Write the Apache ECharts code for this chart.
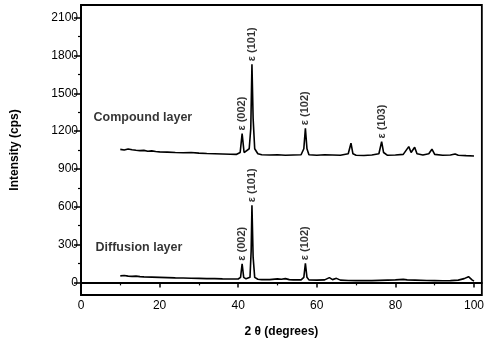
<!DOCTYPE html>
<html>
<head>
<meta charset="utf-8">
<script src="https://cdn.jsdelivr.net/npm/echarts@6/dist/echarts.min.js"></script>
<style>html,body{margin:0;padding:0;background:#fff;}#c{width:487px;height:344px;}</style>
</head>
<body>
<div id="c"></div>
<script>
// 2θ values (degrees) and intensities (cps)
var compoundX = [10,11,12,13,14,15,16,17,18,19,20,22,24,26,28,30,32,34,36,38,39.5,40.5,41,41.5,42,42.8,43.2,43.5,43.8,44.2,45,46,48,50,52,54,56,56.7,57.1,57.5,58,60,62,64,66,68,68.7,69.2,70,72,74,75.8,76.5,77,78,80,82,83.4,84,84.9,85.5,87,88.5,89.3,90,92,94,95.2,96,98,100];
var compoundY = [1055,1050,1058,1052,1048,1045,1047,1040,1043,1038,1035,1033,1030,1028,1030,1025,1022,1020,1018,1016,1015,1030,1180,1030,1025,1060,1220,1730,1300,1060,1020,1012,1010,1012,1008,1010,1012,1060,1223,1060,1012,1008,1012,1010,1008,1020,1104,1020,1008,1006,1010,1020,1117,1030,1008,1010,1015,1077,1030,1072,1020,1010,1020,1056,1015,1008,1010,1018,1008,1005,1003];
var diffusionX = [10,11,12,13,14,15,16,18,20,22,24,26,28,30,32,34,36,38,40,40.6,41,41.4,42,43,43.3,43.5,43.8,44.2,45,46,48,50,50.5,51,52,53,54,56,56.7,57.1,57.5,58,60,62,63.2,64,65,66,68,70,72,74,76,78,80,82,83,85,88,90,92,94,96,97.5,98.6,99.5,100];
var diffusionY = [52,55,50,48,50,46,44,42,40,38,36,35,33,32,30,30,28,27,27,40,148,40,28,40,250,612,200,40,25,22,22,28,35,25,30,22,20,20,40,152,40,20,18,20,38,22,32,18,15,14,15,14,16,18,20,24,20,18,15,14,13,14,18,30,45,20,10];
// peak annotations
var peakX = [41, 43.5, 57.1, 76.5, 41, 43.5, 57.1];
var peakY = [1180, 1730, 1223, 1117, 148, 612, 152];
var peakText = ['ε (002)','ε (101)','ε (102)','ε (103)','ε (002)','ε (101)','ε (102)'];
// layer names
var layerNames = ['Compound layer','Diffusion layer'];
var layerX = [3.2, 3.7];
var layerY = [1305, 279];
// tick labels
var yMajor = [0,300,600,900,1200,1500,1800,2100];
var yMinor = [150,450,750,1050,1350,1650,1950];
var xMajor = [0,20,40,60,80,100];
var xMinor = [10,30,50,70,90];

function zip(a,b){return a.map(function(v,i){return [v,b[i]];});}
function plain(v){return String(v);}

var font = 'Liberation Sans, Arial, sans-serif';
var chart = echarts.init(document.getElementById('c'));
var axisLine = {show:true, lineStyle:{color:'#000', width:1.8}};
chart.setOption({
  animation:false,
  backgroundColor:'#fff',
  grid:{left:81, right:4, top:5, bottom:49, show:true, borderColor:'#000', borderWidth:1.8, backgroundColor:'transparent'},
  xAxis:[{
    type:'value', min:0, max:102, position:'bottom',
    name:'2 θ (degrees)', nameLocation:'middle', nameGap:31,
    nameTextStyle:{fontFamily:font, fontWeight:'bold', fontSize:12, color:'#000'},
    axisLine:axisLine,
    axisTick:{show:true, customValues:xMajor, length:5, inside:false, lineStyle:{color:'#000', width:1.5}},
    axisLabel:{show:true, customValues:xMajor, formatter:plain, fontFamily:font, fontSize:12, color:'#000', margin:5},
    splitLine:{show:false}
  },{
    type:'value', min:0, max:102, position:'bottom',
    axisLine:{show:false},
    axisTick:{show:true, customValues:xMinor, length:3, lineStyle:{color:'#000', width:1.2}},
    axisLabel:{show:false}, splitLine:{show:false}
  }],
  yAxis:[{
    type:'value', min:-100, max:2200, position:'left',
    name:'Intensity (cps)', nameLocation:'middle', nameGap:60,
    nameTextStyle:{fontFamily:font, fontWeight:'bold', fontSize:12, color:'#000'},
    axisLine:axisLine,
    axisTick:{show:true, customValues:yMajor, length:7, lineStyle:{color:'#000', width:1.5}},
    axisLabel:{show:true, customValues:yMajor, formatter:plain, fontFamily:font, fontSize:12, color:'#000', margin:3},
    splitLine:{show:false}
  },{
    type:'value', min:-100, max:2200, position:'left',
    axisLine:{show:false},
    axisTick:{show:true, customValues:yMinor, length:3, lineStyle:{color:'#000', width:1.2}},
    axisLabel:{show:false}, splitLine:{show:false}
  }],
  series:[{
    type:'line', data:zip(compoundX, compoundY), showSymbol:false, symbol:'none',
    lineStyle:{color:'#000', width:1.6}, xAxisIndex:0, yAxisIndex:0
  },{
    type:'line', data:zip(diffusionX, diffusionY), showSymbol:false, symbol:'none',
    lineStyle:{color:'#000', width:1.6}, xAxisIndex:0, yAxisIndex:0
  },{
    type:'scatter', symbolSize:0, xAxisIndex:0, yAxisIndex:0,
    data:peakX.map(function(x,i){return [x, peakY[i], peakText[i]];}),
    label:{show:true, position:'top', distance:3, rotate:90, align:'left', verticalAlign:'middle',
      formatter:function(p){return p.data[2];},
      fontFamily:font, fontWeight:'bold', fontSize:11, color:'#000'}
  },{
    type:'scatter', symbolSize:0, xAxisIndex:0, yAxisIndex:0,
    data:layerX.map(function(x,i){return [x, layerY[i], layerNames[i]];}),
    label:{show:true, position:'right', distance:0,
      formatter:function(p){return p.data[2];},
      fontFamily:font, fontWeight:'bold', fontSize:12.5, color:'#000'}
  }]
});
</script>
</body>
</html>
